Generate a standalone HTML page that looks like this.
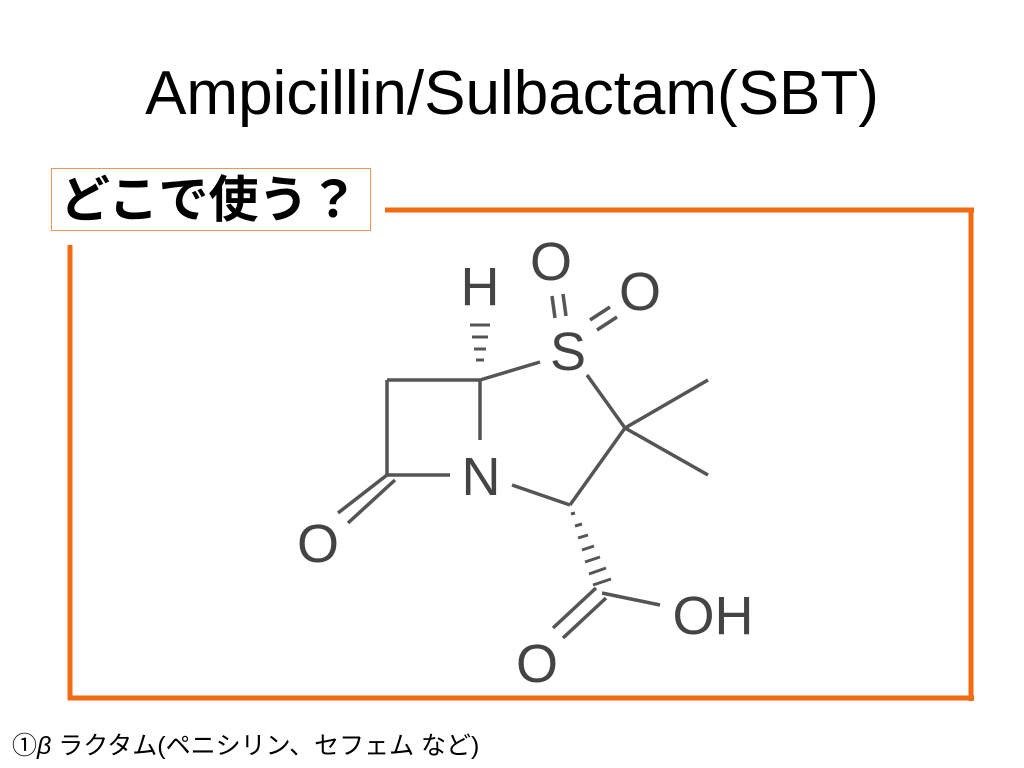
<!DOCTYPE html>
<html><head><meta charset="utf-8"><style>
body{margin:0;width:1024px;height:768px;background:#fff;position:relative;overflow:hidden;font-family:"Liberation Sans","Noto Sans CJK JP",sans-serif}
.t{position:absolute;left:0;width:1024px;top:58px;text-align:center;font-size:62px;color:#000;white-space:nowrap}
.b{position:absolute;left:51px;top:168px;width:320px;height:63px;border:1.5px solid #f0955a;box-sizing:border-box;font-size:50px;font-weight:bold;line-height:63px;padding-left:8px;color:#000;letter-spacing:0px;white-space:nowrap}
.f{position:absolute;left:12px;top:726px;font-size:25px;color:#000;white-space:nowrap}
</style></head><body>
<div class="t">Ampicillin/Sulbactam(SBT)</div>
<div class="b">どこで使う？</div>
<svg width="1024" height="768" style="position:absolute;left:0;top:0">
<g stroke="#f26b12" stroke-width="5" fill="none">
<line x1="385" y1="210" x2="974" y2="210"/>
<line x1="971" y1="210" x2="971" y2="701"/>
<line x1="68" y1="698" x2="974" y2="698"/>
<line x1="70" y1="245" x2="70" y2="700"/>
</g>
<g stroke="#555" stroke-width="3.5" fill="none">
<line x1="387" y1="380" x2="480" y2="380"/>
<line x1="387" y1="380" x2="387" y2="475"/>
<line x1="387" y1="475" x2="450" y2="475"/>
<line x1="480" y1="380" x2="480" y2="440"/>
<line x1="480" y1="380" x2="540" y2="362"/>
<line x1="587" y1="375" x2="625" y2="428"/>
<line x1="625" y1="428" x2="708" y2="380"/>
<line x1="625" y1="428" x2="708" y2="475"/>
<line x1="625" y1="428" x2="570" y2="505"/>
<line x1="512" y1="485" x2="570" y2="505"/>
<line x1="387" y1="475" x2="338" y2="513"/>
<line x1="395" y1="480" x2="348" y2="523"/>
<line x1="602" y1="593" x2="660" y2="605"/>
<line x1="596" y1="588" x2="553" y2="628"/>
<line x1="606" y1="598" x2="563" y2="638"/>
<line x1="552" y1="296" x2="555" y2="318"/>
<line x1="563" y1="294" x2="566" y2="316"/>
<line x1="590" y1="320" x2="610" y2="307"/>
<line x1="597" y1="330" x2="617" y2="317"/>
</g>
<g stroke="#555" stroke-width="3">
<line x1="470" y1="325" x2="490" y2="325"/>
<line x1="472" y1="337" x2="488" y2="337"/>
<line x1="474" y1="349" x2="486" y2="349"/>
<line x1="476" y1="360" x2="484" y2="360"/>
<line x1="571" y1="514" x2="575" y2="513"/>
<line x1="575" y1="526" x2="582" y2="524"/>
<line x1="578" y1="538" x2="588" y2="535"/>
<line x1="582" y1="550" x2="594" y2="546"/>
<line x1="585" y1="562" x2="600" y2="557"/>
<line x1="589" y1="574" x2="606" y2="568"/>
<line x1="593" y1="585" x2="611" y2="579"/>
</g>
<g fill="#444" font-size="54" font-family="Liberation Sans" text-anchor="middle">
<text x="480" y="305">H</text>
<text x="551" y="280">O</text>
<text x="640" y="310">O</text>
<text x="568" y="370">S</text>
<text x="481" y="495">N</text>
<text x="318" y="562">O</text>
<text x="713" y="634">OH</text>
<text x="537" y="682">O</text>
</g>
</svg>
<div class="f">①<i>β</i> ラクタム(ペニシリン、セフェム など)</div>
</body></html>
